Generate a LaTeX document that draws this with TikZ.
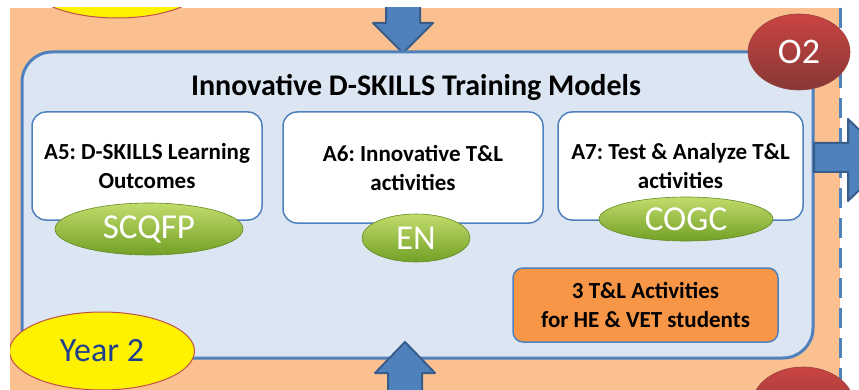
\documentclass[tikz,border=0pt]{standalone}
\usepackage{fontspec}
\setmainfont{Carlito}
\usetikzlibrary{shapes.geometric}
\usepackage{xcolor}
\frenchspacing

\definecolor{pagepeach}{HTML}{FAC090}
\definecolor{boxblue}{HTML}{4F81BD}
\definecolor{paleblue}{HTML}{DCE6F2}
\definecolor{arrowedge}{HTML}{385D8A}
\definecolor{actorange}{HTML}{F79646}
\definecolor{yeartext}{HTML}{1F3F8F}
\definecolor{ovalred}{HTML}{C0504D}
\definecolor{greenlight}{HTML}{C2DC6C}
\definecolor{greendark}{HTML}{72A026}
\definecolor{greenedge}{HTML}{628A22}

\begin{document}
\begin{tikzpicture}[x=1pt, y=-1pt,
  panel/.style={rectangle, draw=boxblue, line width=3pt, fill=paleblue, rounded corners=30pt, minimum width=791pt, minimum height=306pt},
  actbox/.style={rectangle, draw=boxblue, line width=1.5pt, fill=white, rounded corners=14pt, minimum height=108pt, align=center, font=\bfseries\fontsize{23}{29}\selectfont},
  partner/.style={ellipse, draw=greenedge, line width=0.6pt, top color=greenlight, bottom color=greendark, text=white, inner sep=0pt, font=\fontsize{35}{35}\selectfont},
  yearoval/.style={ellipse, draw=ovalred, line width=1pt, fill=yellow, text=yeartext, inner sep=0pt, minimum width=185pt, minimum height=78pt, font=\fontsize{34}{34}\selectfont},
  outoval/.style={ellipse, draw=ovalred!80!black, line width=0.6pt, top color=ovalred!85!red, bottom color=ovalred!70!black, text=white, inner sep=0pt, minimum width=102pt, minimum height=76pt, font=\fontsize{36}{36}\selectfont},
  blockarrow/.style={draw=arrowedge, line width=2pt, fill=boxblue, line join=round},
]
\useasboundingbox (0,0) rectangle (859,390);

\begin{scope}
\clip (10,8) rectangle (859,390);
\fill[pagepeach] (10,8) rectangle (840,390);
\draw[boxblue, line width=3pt, dash pattern=on 20pt off 10pt] (840,8) -- (840,390);

\node[yearoval] (prevyear) at (117,-21) {};

% arrow in from the top
\draw[blockarrow] (386,-5) -- (420,-5) -- (420,23) -- (433,23) -- (403,53) -- (373,23) -- (386,23) -- cycle;

\node[panel] (models) at (417.5,205) {};
\node[font=\bfseries\fontsize{30}{30}\selectfont, anchor=base] (title) at (416,96) {Innovative D-SKILLS Training Models};

\node[actbox, minimum width=230pt] (a5) at (147,166) {A5: D-SKILLS Learning\\Outcomes};
\node[actbox, minimum width=260pt, minimum height=111pt] (a6) at (413,167.5) {A6: Innovative T\&L\\activities};
\node[actbox, minimum width=245pt] (a7) at (680.5,166) {A7: Test \& Analyze T\&L\\activities};

\node[partner, minimum width=188pt, minimum height=52pt] (scqfp) at (149,229) {SCQFP};
\node[partner, minimum width=108pt, minimum height=48pt] (en) at (416,238) {EN};
\node[partner, minimum width=174pt, minimum height=44pt] (cogc) at (686,219) {COGC};

\node[rectangle, draw=boxblue, line width=1.5pt, fill=actorange, rounded corners=10pt, minimum width=265pt, minimum height=74pt, align=center, font=\bfseries\fontsize{23}{29}\selectfont] (tl) at (645.5,305) {3 T\&L Activities\\for HE \& VET students};

% arrows up from below and out to the right
\draw[blockarrow] (388,400) -- (388,373) -- (375,373) -- (405,342) -- (435,373) -- (422,373) -- (422,400) -- cycle;
\draw[blockarrow] (814,143) -- (848,143) -- (848,119) -- (890,160) -- (848,201) -- (848,172) -- (814,172) -- cycle;

\node[outoval] (o2) at (799,52) {O2};
\node[yearoval] (year) at (102,351) {Year 2};
\node[outoval] (nextout) at (803,405) {};
\end{scope}

\end{tikzpicture}
\end{document}
